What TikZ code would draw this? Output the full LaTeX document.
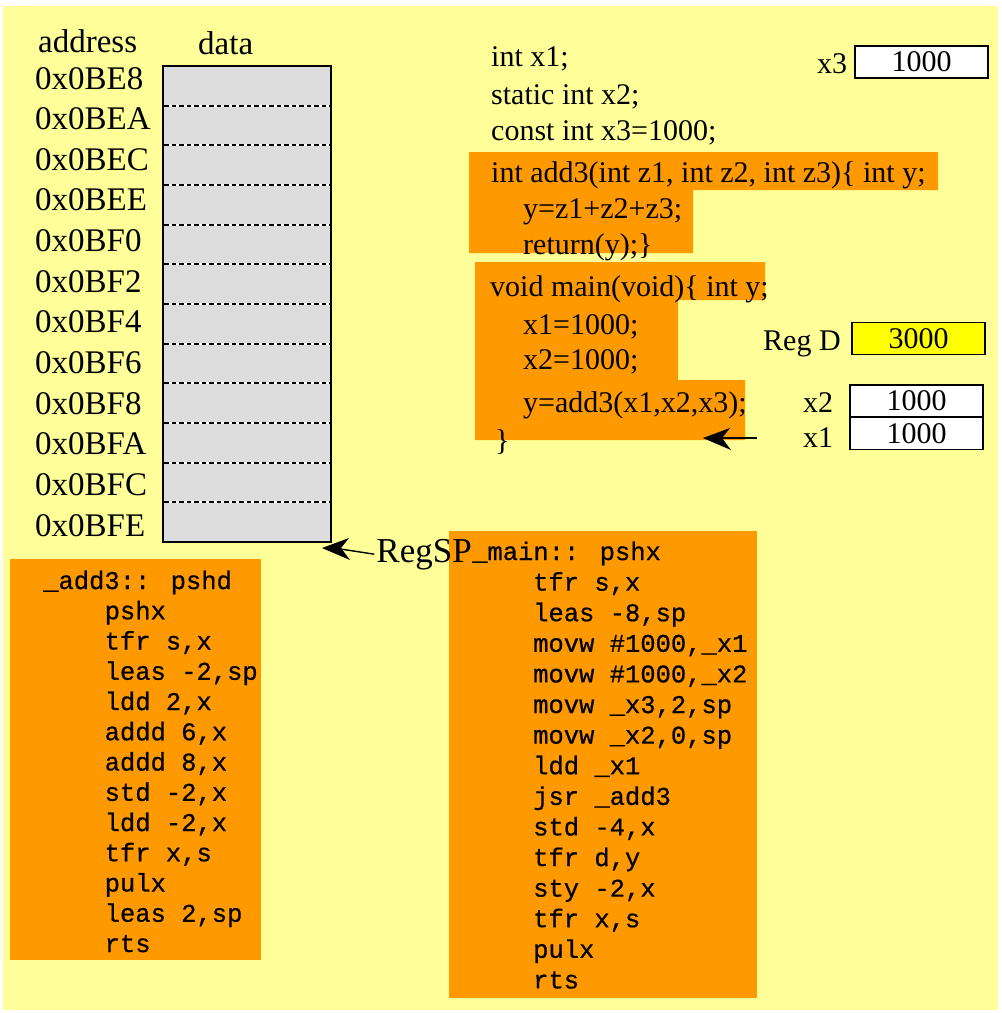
\documentclass[tikz,border=0pt]{standalone}
\usepackage{fontspec}
\setmainfont{Liberation Serif}
\setmonofont{Liberation Mono}
\newfontfamily\asmfont{Liberation Mono}[FakeBold=0.6]
\usetikzlibrary{calc}
\definecolor{bgyellow}{HTML}{FFFF99}
\definecolor{codeorange}{HTML}{FF9900}
\definecolor{memgray}{HTML}{DDDDDD}
\definecolor{regyellow}{HTML}{FFFF00}
\tikzset{
  serif/.style={inner sep=0pt, anchor=base west, font=\fontsize{30}{36}\selectfont},
  addr/.style={inner sep=0pt, anchor=base west, font=\fontsize{33}{40}\selectfont},
  asm/.style={inner sep=0pt, anchor=base west, font=\fontsize{25.5}{30}\selectfont\asmfont},
  valbox/.style={draw=black, line width=1.5pt, fill=white, minimum width=133pt, minimum height=32pt, inner sep=0pt, font=\fontsize{30}{36}\selectfont},
  orangefill/.style={fill=codeorange},
  ptrline/.style={line width=1.4pt},
  memrow/.style={black, line width=2pt, dash pattern=on 4.5pt off 3pt}
}
\begin{document}
\begin{tikzpicture}[x=1pt,y=-1pt]
\useasboundingbox (0,0) rectangle (1002,1013);
\fill[white] (0,0) rectangle (1002,1013);
\fill[bgyellow] (3,6) rectangle (998,1010);

% memory
\node[addr] (addrhdr) at (38,52) {address};
\node[addr] (datahdr) at (198,54) {data};
\foreach \t [count=\i from 0] in {0x0BE8,0x0BEA,0x0BEC,0x0BEE,0x0BF0,0x0BF2,0x0BF4,0x0BF6,0x0BF8,0x0BFA,0x0BFC,0x0BFE}
  \node[addr] (a\i) at (35,{89+40.64*\i}) {\t};
\node[draw=black, line width=1.8pt, fill=memgray, minimum width=168pt, minimum height=476pt, inner sep=0pt] (mem) at (247,304) {};
\foreach \k in {1,...,11} {
  \draw[white, line width=2pt] (164,{66+39.67*\k}) -- (330,{66+39.67*\k});
  \draw[memrow] (164,{66+39.67*\k}) -- (330,{66+39.67*\k});
}

% C code
\fill[orangefill] (469,152) -- (938,152) -- (938,190) -- (693,190) -- (693,253) -- (469,253) -- cycle;
\fill[orangefill] (475,262) -- (765,262) -- (765,300) -- (678,300) -- (678,380) -- (745,380) -- (745,440) -- (475,440) -- cycle;
\node[serif] (c1) at (491,66) {int x1;};
\node[serif] (c2) at (491,104) {static int x2;};
\node[serif] (c3) at (491,140) {const int x3=1000;};
\node[serif] (c4) at (491,182) {int add3(int z1, int z2, int z3)\{ int y;};
\node[serif] (c5) at (523,218) {y=z1+z2+z3;};
\node[serif] (c6) at (523,254) {return(y);\}};
\node[serif] (c7) at (490,296) {void main(void)\{ int y;};
\node[serif] (c8) at (523,334) {x1=1000;};
\node[serif] (c9) at (523,369) {x2=1000;};
\node[serif] (c10) at (523,412) {y=add3(x1,x2,x3);};
\node[serif] (c11) at (495,450) {\}};

% variables / registers
\node[serif] (x3lbl) at (817,73) {x3};
\node[valbox] (x3box) at (921.5,62) {1000};
\node[serif] (regdlbl) at (763,350) {Reg D};
\node[valbox, fill=regyellow] (regd) at (918.5,338.5) {3000};
\node[serif] (x2lbl) at (803,412) {x2};
\node[valbox] (x2box) at (916.5,401) {1000};
\node[serif] (x1lbl) at (803,447) {x1};
\node[valbox] (x1box) at (916.5,433.5) {1000};

\coordinate (retTail) at (757,438);
\coordinate (retTip) at (703,438);
\draw[ptrline] (retTail) -- ($(retTip)+(12,0)$);
\fill (retTip) -- ++(27,-10) -- ++(-8,10) -- ++(9,12) -- cycle;

% assembly add3
\fill[orangefill] (10,559) rectangle (261,960);
\node[asm] (s0) at (43,589) {\_add3:: pshd};
\foreach \t [count=\i from 1] in {pshx,{tfr s,x},{leas -2,sp},{ldd 2,x},{addd 6,x},{addd 8,x},{std -2,x},{ldd -2,x},{tfr x,s},pulx,{leas 2,sp},rts}
  \node[asm] (s\i) at (104.5,{589+30.25*\i}) {\t};

% assembly main
\fill[orangefill] (449,531) rectangle (757,998);
\node[asm] (m0) at (472,560) {\_main:: pshx};
\foreach \t [count=\i from 1] in {{tfr s,x},{leas -8,sp},{movw \#1000,\_x1},{movw \#1000,\_x2},{movw \_x3,2,sp},{movw \_x2,0,sp},{ldd \_x1},{jsr \_add3},{std -4,x},{tfr d,y},{sty -2,x},{tfr x,s},pulx,rts}
  \node[asm] (m\i) at (533,{560+30.6*\i}) {\t};

% stack pointer
\node[inner sep=0pt, anchor=base east, font=\fontsize{35}{42}\selectfont] (regsp) at (472,562) {RegSP};
\coordinate (spTip) at (322,548);
\draw[ptrline] ([xshift=-2pt]regsp.west) -- ($(spTip)+(12,0)$);
\fill (spTip) -- ++(27,-10) -- ++(-8,10) -- ++(9,12) -- cycle;
\end{tikzpicture}
\end{document}
